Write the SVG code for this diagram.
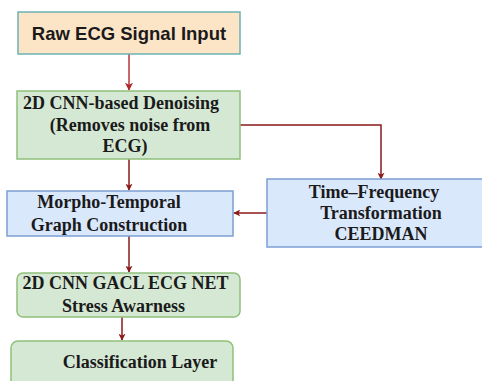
<svg xmlns="http://www.w3.org/2000/svg" width="482" height="381" viewBox="0 0 482 381">
  <style>
    .serif { font-family: "Liberation Serif", "Times New Roman", serif; font-weight: bold; font-size: 18px; fill: #1a1a1a; }
    .sans { font-family: "Liberation Sans", Arial, sans-serif; font-weight: bold; font-size: 18.5px; fill: #1a1a1a; }
    .peach { fill: #fce4c7; stroke: #6db3b3; stroke-width: 1.5; }
    .green { fill: #d5e8d4; stroke: #8fc07a; stroke-width: 1.5; }
    .blue { fill: #dae8fc; stroke: #7d9fd4; stroke-width: 1.5; }
    .link { fill: none; stroke: #8b1a1a; stroke-width: 1.5; }
    .link-light { fill: none; stroke: #c9676c; stroke-width: 2; }
  </style>
  <defs>
    <marker id="head" viewBox="0 0 10 10" refX="9" refY="5" markerWidth="7" markerHeight="7" markerUnits="userSpaceOnUse" orient="auto">
      <path d="M0,0 L10,5 L0,10 L2.5,5 Z" fill="#8b1a1a"/>
    </marker>
    <marker id="head-light" viewBox="0 0 10 10" refX="9" refY="5" markerWidth="8" markerHeight="8" markerUnits="userSpaceOnUse" orient="auto">
      <path d="M0,0 L10,5 L0,10 L2.5,5 Z" fill="#b0282e"/>
    </marker>
  </defs>

  <g id="connectors">
    <path class="link-light" d="M129,54 L129,90" marker-end="url(#head-light)"/>
    <path class="link" d="M129,159 L129,190" marker-end="url(#head)"/>
    <path class="link" d="M240,125 L381,125 L381,179" marker-end="url(#head)"/>
    <path class="link" d="M267,213 L234,213" marker-end="url(#head)"/>
    <path class="link" d="M129,236 L129,272" marker-end="url(#head)"/>
    <path class="link" d="M122,317 L122,340" marker-end="url(#head)"/>
  </g>

  <g id="raw-ecg">
    <rect class="peach" x="18" y="12" width="222" height="42"/>
    <text class="sans" x="129" y="39.5" text-anchor="middle">Raw ECG Signal Input</text>
  </g>

  <g id="denoising">
    <rect class="green" x="17" y="91" width="223" height="68"/>
    <text class="serif" x="121" y="109" text-anchor="middle">2D CNN-based Denoising</text>
    <text class="serif" x="130" y="131" text-anchor="middle">(Removes noise from</text>
    <text class="serif" x="125" y="152" text-anchor="middle">ECG)</text>
  </g>

  <g id="graph-construction">
    <rect class="blue" x="7" y="191" width="226" height="45"/>
    <text class="serif" x="109" y="208" text-anchor="middle">Morpho-Temporal</text>
    <text class="serif" x="109" y="231" text-anchor="middle">Graph Construction</text>
  </g>

  <g id="time-frequency">
    <rect class="blue" x="267" y="179" width="220" height="68"/>
    <text class="serif" x="374" y="198" text-anchor="middle">Time–Frequency</text>
    <text class="serif" x="381" y="219" text-anchor="middle">Transformation</text>
    <text class="serif" x="381" y="240" text-anchor="middle">CEEDMAN</text>
  </g>

  <g id="gacl-net">
    <rect class="green" x="17" y="273" width="223" height="44" rx="6"/>
    <text class="serif" x="125.5" y="289" text-anchor="middle">2D CNN GACL ECG NET</text>
    <text class="serif" x="123.5" y="312" text-anchor="middle">Stress Awarness</text>
  </g>

  <g id="classification">
    <rect class="green" x="11" y="341" width="222" height="50" rx="7"/>
    <text class="serif" x="140" y="368" text-anchor="middle">Classification Layer</text>
  </g>
</svg>
